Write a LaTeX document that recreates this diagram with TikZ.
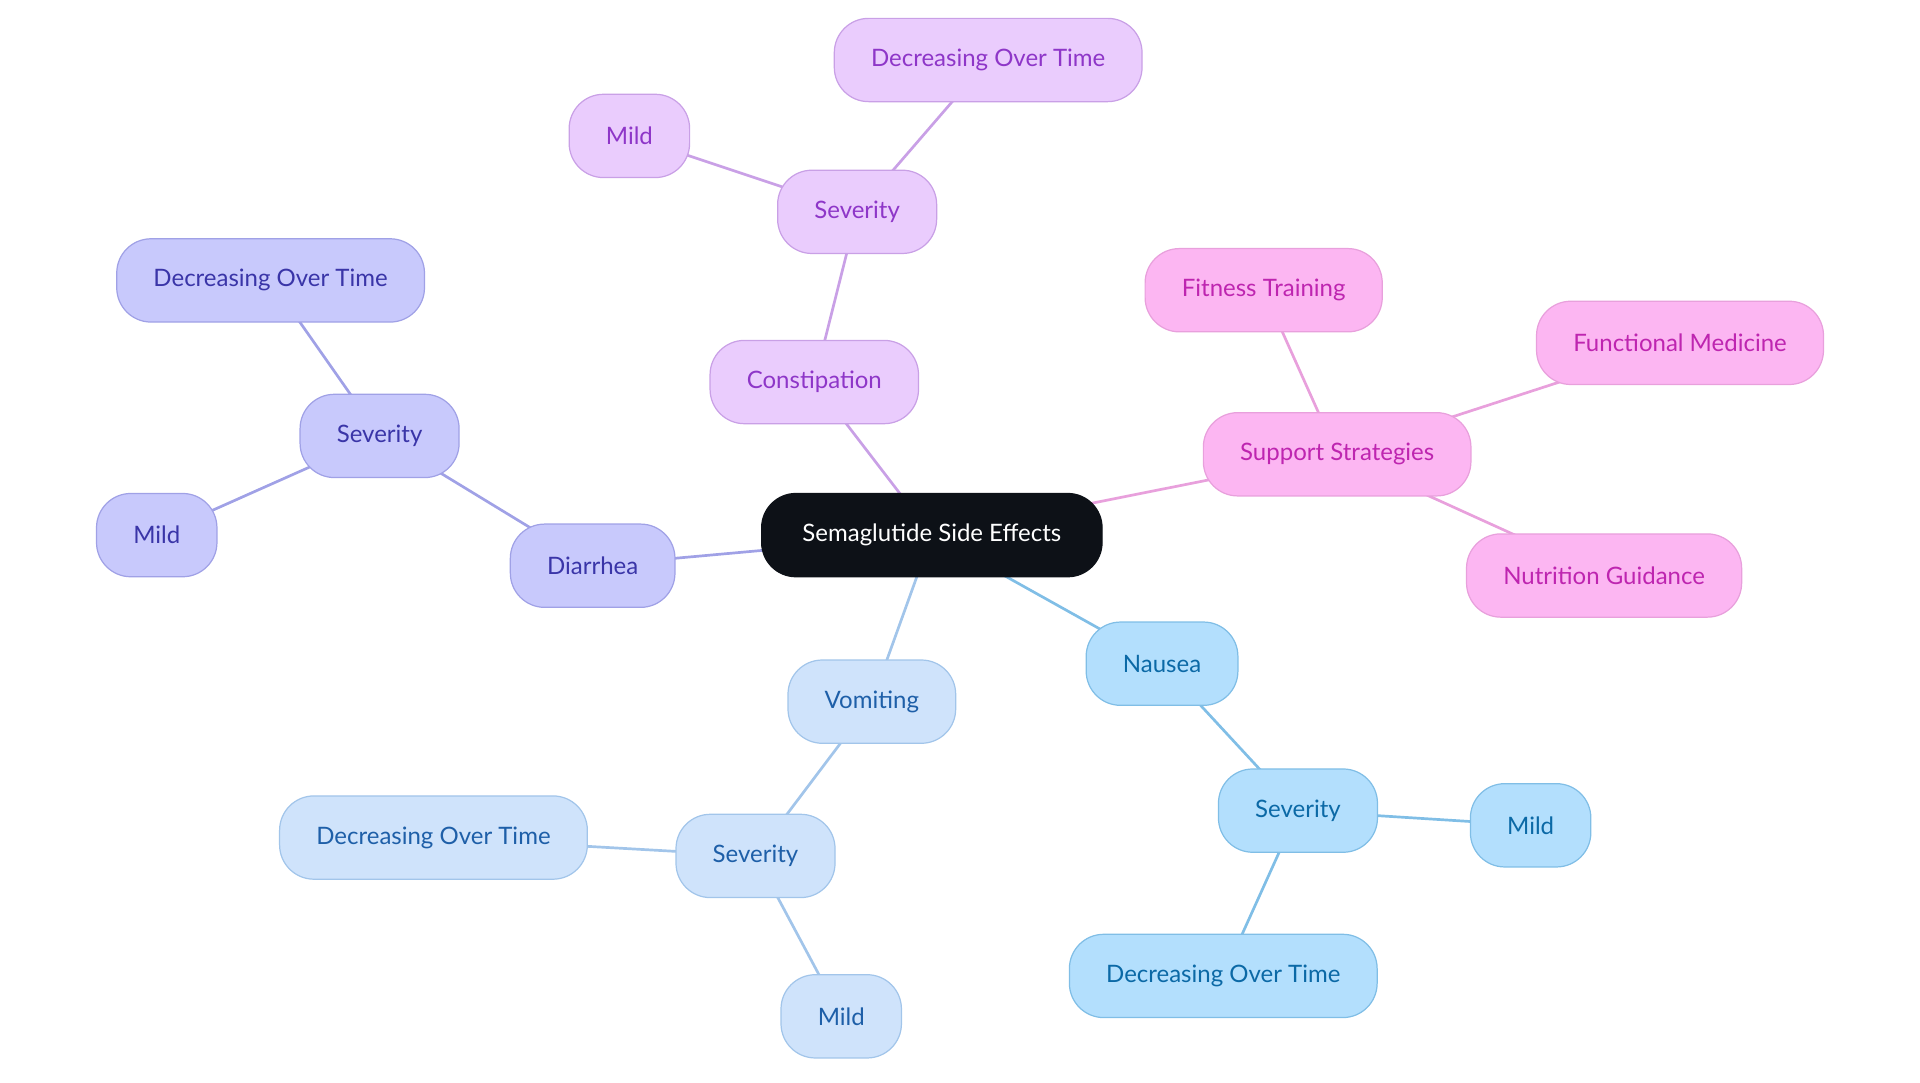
\documentclass[tikz,border=0pt]{standalone}
\usepackage{fontspec}
\setmainfont{Lato}
\usepackage{tikz}
\usetikzlibrary{calc, positioning}
\pgfdeclarelayer{bg}
\pgfsetlayers{bg,main}

\definecolor{ink}{HTML}{0D1117}
\definecolor{cfill}{HTML}{EACCFD}
\definecolor{cline}{HTML}{C9A0E6}
\definecolor{ctext}{HTML}{8E36C8}
\definecolor{sfill}{HTML}{FCB6F2}
\definecolor{sline}{HTML}{E8A0DC}
\definecolor{stext}{HTML}{BE25B0}
\definecolor{dfill}{HTML}{C8C9FC}
\definecolor{dline}{HTML}{A0A1E6}
\definecolor{dtext}{HTML}{3A35A8}
\definecolor{nfill}{HTML}{B3DFFD}
\definecolor{nline}{HTML}{80BEE6}
\definecolor{ntext}{HTML}{0B69A6}
\definecolor{vfill}{HTML}{CFE3FB}
\definecolor{vline}{HTML}{A2C5EA}
\definecolor{vtext}{HTML}{1E5FA8}

\tikzset{
  topic/.style={rectangle, rounded corners=28pt, minimum height=68pt,
    inner xsep=30pt, line width=1pt, font=\fontsize{19.6}{22}\selectfont,
    text centered},
  constip/.style={topic, fill=cfill, draw=cline, text=ctext},
  support/.style={topic, fill=sfill, draw=sline, text=stext},
  diarr/.style={topic, fill=dfill, draw=dline, text=dtext},
  nause/.style={topic, fill=nfill, draw=nline, text=ntext},
  vomit/.style={topic, fill=vfill, draw=vline, text=vtext},
  link/.style={line width=2.2pt}
}

\begin{document}
\begin{tikzpicture}[x=1pt, y=-1pt]
\useasboundingbox (0,0) rectangle (1568,884);
% nodes %
\node[topic, fill=ink, draw=ink, text=white, minimum width=278pt] (se) at (761,437) {Semaglutide Side Effects};
\node[constip] (con) at (665,312) {Constipation};
\node[constip] (conS) at (700,173) {Severity};
\node[constip] (conM) at (514,111) {Mild};
\node[constip] (conD) at (807,49) {Decreasing Over Time};
\node[support] (sup) at (1092,371) {Support Strategies};
\node[support] (fit) at (1032,237) {Fitness Training};
\node[support] (fun) at (1372,280) {Functional Medicine};
\node[support] (nut) at (1310,470) {Nutrition Guidance};
\node[nause] (nau) at (949,542) {Nausea};
\node[nause] (nauS) at (1060,662) {Severity};
\node[nause] (nauM) at (1250,674) {Mild};
\node[nause] (nauD) at (999,797) {Decreasing Over Time};
\node[vomit] (vom) at (712,573) {Vomiting};
\node[vomit] (vomS) at (617,699) {Severity};
\node[vomit] (vomD) at (354,684) {Decreasing Over Time};
\node[vomit] (vomM) at (687,830) {Mild};
\node[diarr] (dia) at (484,462) {Diarrhea};
\node[diarr] (diaS) at (310,356) {Severity};
\node[diarr] (diaD) at (221,229) {Decreasing Over Time};
\node[diarr] (diaM) at (128,437) {Mild};
% edges %
\begin{pgfonlayer}{bg}
\draw[link, cline] (se.center) -- (con.center);
\draw[link, cline] (con.center) -- (conS.center);
\draw[link, cline] (conS.center) -- (conM.center);
\draw[link, cline] (conS.center) -- (conD.center);
\draw[link, sline] (se.center) -- (sup.center);
\draw[link, sline] (sup.center) -- (fit.center);
\draw[link, sline] (sup.center) -- (fun.center);
\draw[link, sline] (sup.center) -- (nut.center);
\draw[link, nline] (se.center) -- (nau.center);
\draw[link, nline] (nau.center) -- (nauS.center);
\draw[link, nline] (nauS.center) -- (nauM.center);
\draw[link, nline] (nauS.center) -- (nauD.center);
\draw[link, vline] (se.center) -- (vom.center);
\draw[link, vline] (vom.center) -- (vomS.center);
\draw[link, vline] (vomS.center) -- (vomD.center);
\draw[link, vline] (vomS.center) -- (vomM.center);
\draw[link, dline] (se.center) -- (dia.center);
\draw[link, dline] (dia.center) -- (diaS.center);
\draw[link, dline] (diaS.center) -- (diaD.center);
\draw[link, dline] (diaS.center) -- (diaM.center);
\end{pgfonlayer}
\end{tikzpicture}
\end{document}
